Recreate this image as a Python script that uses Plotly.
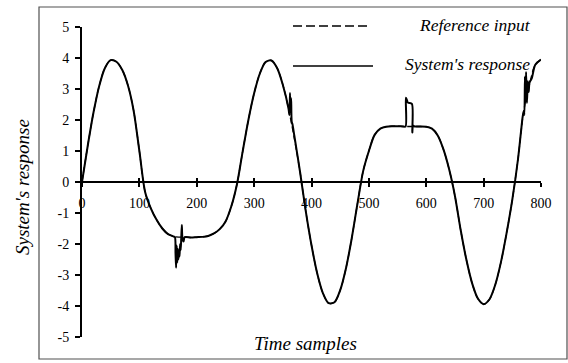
import plotly.graph_objects as go

# Time axis for the reference input (every 10 samples)
ref_t = list(range(0, 801, 10))
ref_v = [
    0.00, 1.17, 2.24, 3.10, 3.68, 3.93, 3.88, 3.62, 3.12, 2.30,
    1.00, -0.32, -0.85, -1.22, -1.50, -1.68, -1.76, -1.78, -1.78, -1.79,
    -1.78, -1.77, -1.74, -1.66, -1.52, -1.28, -0.80, -0.08, 0.98, 2.00,
    2.86, 3.50, 3.87, 3.92, 3.68, 3.14, 2.36, 1.41, 0.33, -0.94,
    -2.04, -2.95, -3.59, -3.91, -3.88, -3.49, -2.79, -1.83, -0.71, 0.35,
    1.00, 1.52, 1.72, 1.78, 1.80, 1.80, 1.79, 1.79, 1.79, 1.79,
    1.78, 1.72, 1.50, 1.05, 0.40, -0.45, -1.55, -2.51, -3.27, -3.76,
    -3.94, -3.79, -3.33, -2.60, -1.65, -0.57, 0.75, 2.30, 3.15, 3.78,
    3.95,
]

# System's response, with the transient spikes
resp_t = [
    0, 10, 20, 30, 40, 50, 60, 70, 80, 90, 100, 110, 120, 130, 140, 150,
    160, 162, 163, 164, 165, 166, 167, 168, 169, 170, 171, 172, 173, 174, 175, 177, 179,
    190, 200, 210, 220, 230, 240, 250, 260, 270, 280, 290, 300, 310, 320, 330, 340, 350,
    360, 361.5, 362.5, 363.5, 364.5, 365.5, 367, 370,
    380, 390, 400, 410, 420, 430, 440, 450, 460, 470, 480, 490, 500, 510, 520, 530,
    540, 550, 560, 564, 564.5, 566, 568, 570, 575, 575.7, 577, 580,
    590, 600, 610, 620, 630, 640, 650, 660, 670, 680, 690, 700, 710, 720, 730, 740, 750,
    760, 765, 768, 770, 771, 772, 773, 774, 775.5, 777, 778.5, 780, 784, 790, 800,
]
resp_v = [
    0.00, 1.17, 2.24, 3.10, 3.68, 3.93, 3.88, 3.62, 3.12, 2.30, 1.00, -0.32, -0.85, -1.22, -1.50, -1.68,
    -1.76, -1.78, -2.30, -2.77, -2.05, -2.60, -2.15, -2.50, -2.20, -2.40, -2.00, -2.20, -1.80, -1.39, -1.80, -1.92, -1.78,
    -1.79, -1.78, -1.77, -1.74, -1.66, -1.52, -1.28, -0.80, -0.08, 0.98, 2.00, 2.86, 3.50, 3.87, 3.92, 3.68, 3.14,
    2.36, 2.15, 2.87, 2.30, 2.70, 1.95, 1.85, 1.50,
    0.33, -0.94, -2.04, -2.95, -3.59, -3.91, -3.88, -3.49, -2.79, -1.83, -0.71, 0.35, 1.00, 1.52, 1.72, 1.78,
    1.80, 1.80, 1.79, 1.79, 2.72, 2.66, 2.56, 2.55, 2.52, 1.60, 1.82, 1.79,
    1.79, 1.78, 1.72, 1.50, 1.05, 0.40, -0.45, -1.55, -2.51, -3.27, -3.76, -3.94, -3.79, -3.33, -2.60, -1.65, -0.57,
    0.75, 1.60, 2.10, 2.30, 2.16, 3.40, 2.60, 3.55, 2.55, 3.25, 2.90, 3.20, 3.35, 3.78, 3.95,
]

x_ticks = [0, 100, 200, 300, 400, 500, 600, 700, 800]
y_ticks = [-5, -4, -3, -2, -1, 0, 1, 2, 3, 4, 5]

SERIF = "Liberation Serif"
W, H = 568, 363
ML, MR, MT, MB = 82, 27, 27, 26
PW, PH = W - ML - MR, H - MT - MB


def px(xp):
    return (xp - ML) / PW


def py(yp):
    return (H - MB - yp) / PH


fig = go.Figure()
fig.add_trace(go.Scatter(
    x=ref_t, y=ref_v, mode="lines", name="Reference input",
    line=dict(color="black", width=1.3, dash="6px,3px", shape="spline", smoothing=1),
    showlegend=False,
))
fig.add_trace(go.Scatter(
    x=resp_t, y=resp_v, mode="lines", name="System's response",
    line=dict(color="black", width=2, shape="spline", smoothing=0.8),
    showlegend=False,
))
# carrier for the upward half of the crossing x ticks
fig.add_trace(go.Scatter(x=[], y=[], xaxis="x2", showlegend=False))

axis_font = dict(family=SERIF, size=14, color="black")
fig.update_layout(
    width=W, height=H, autosize=False,
    margin=dict(l=ML, r=MR, t=MT, b=MB),
    paper_bgcolor="white", plot_bgcolor="white",
    xaxis=dict(
        range=[0, 800], anchor="free", position=0.5,
        showline=True, linecolor="black", linewidth=2,
        ticks="outside", ticklen=4, tickwidth=1.5, tickcolor="black",
        tickvals=x_ticks, ticktext=[str(v) for v in x_ticks],
        tickfont=axis_font, ticklabelstandoff=4,
        showgrid=False, zeroline=False,
    ),
    xaxis2=dict(
        range=[0, 800], overlaying="x", anchor="free", position=0.5, side="bottom",
        ticks="inside", ticklen=4, tickwidth=1.5, tickcolor="black",
        tickvals=x_ticks, showticklabels=False,
        showline=False, showgrid=False, zeroline=False,
    ),
    yaxis=dict(
        range=[-5, 5],
        showline=True, linecolor="black", linewidth=2,
        ticks="outside", ticklen=5, tickwidth=1.5, tickcolor="black",
        tickvals=y_ticks, ticktext=[str(v) for v in y_ticks],
        tickfont=axis_font, ticklabelstandoff=3,
        showgrid=False, zeroline=False,
    ),
)

# outer frame
fig.add_shape(type="rect", xref="paper", yref="paper",
              x0=px(39), x1=px(567), y0=py(359), y1=py(7),
              line=dict(color="#505050", width=1.2), layer="below")

# legend samples
fig.add_shape(type="line", xref="paper", yref="paper",
              x0=px(293), x1=px(371), y0=py(26), y1=py(26),
              line=dict(color="black", width=1.3, dash="9px,4px"))
fig.add_shape(type="line", xref="paper", yref="paper",
              x0=px(293), x1=px(373), y0=py(66), y1=py(66),
              line=dict(color="black", width=1.3))

label_font = dict(family=SERIF, size=17.5, color="black")
fig.add_annotation(text="<i>Reference input</i>", xref="paper", yref="paper",
                   x=px(417), y=py(25), xanchor="left", yanchor="middle",
                   showarrow=False, font=label_font)
fig.add_annotation(text="<i>System's response</i>", xref="paper", yref="paper",
                   x=px(403), y=py(64), xanchor="left", yanchor="middle",
                   showarrow=False, font=label_font)

title_font = dict(family=SERIF, size=19, color="black")
fig.add_annotation(text="<i>System's response</i>", xref="paper", yref="paper",
                   x=px(22), y=py(187), xanchor="center", yanchor="middle",
                   textangle=-90, showarrow=False, font=title_font)
fig.add_annotation(text="<i>Time samples</i>", xref="paper", yref="paper",
                   x=px(305), y=py(344), xanchor="center", yanchor="middle",
                   showarrow=False, font=title_font)

fig.write_html("out.html")
